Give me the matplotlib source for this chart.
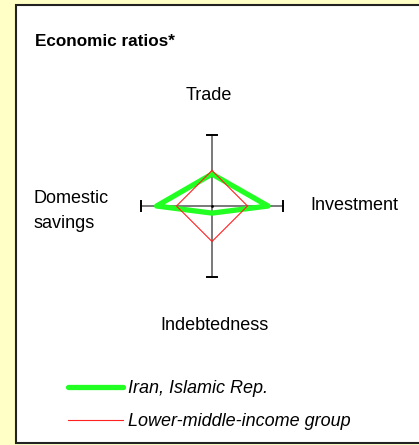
import matplotlib
matplotlib.use('Agg')
import matplotlib.pyplot as plt
import numpy as np
from matplotlib.patches import Rectangle
from matplotlib.lines import Line2D

plt.rcParams['font.family'] = ['Liberation Sans', 'DejaVu Sans']

# Spokes: clockwise from the top
spokes = ['Trade', 'Investment', 'Indebtedness', 'Domestic\nsavings']
country_name = 'Iran, Islamic Rep.'
group_name = 'Lower-middle-income group'
country_vals = [0.45, 0.79, 0.10, 0.78]
group_vals = [0.50, 0.50, 0.50, 0.50]

W, H = 419, 445
cx, cy, r = 212, 206, 71  # centre and spoke length in pixels

fig = plt.figure(figsize=(W / 100, H / 100), dpi=100, facecolor='#ffffc6')

# white panel with dark frame (right edge runs off the image)
fig.patches.append(Rectangle((16 / W, 2 / H), 1.0, 438 / H, transform=fig.transFigure,
                             facecolor='white', edgecolor='#222222', linewidth=1.5, zorder=0))

ax = fig.add_axes([0, 0, 1, 1])
ax.set_zorder(2)
ax.set_xlim(-cx / r, (W - cx) / r)
ax.set_ylim(-(H - cy) / r, cy / r)
ax.axis('off')
ax.patch.set_alpha(0)

angles = np.pi / 2 - np.arange(len(spokes)) * np.pi / 2
ux, uy = np.cos(angles), np.sin(angles)

# spokes with end caps
cap = 0.075
for x, y in zip(ux, uy):
    ax.plot([0, x], [0, y], color='#555555', lw=1.1, zorder=1)
    ax.plot([x - cap * abs(y), x + cap * abs(y)], [y - cap * abs(x), y + cap * abs(x)],
            color='black', lw=1.4, zorder=1)
ax.plot([0], [0], 'k.', ms=2)


def closed(vals):
    v = np.array(vals + vals[:1])
    a = np.append(angles, angles[0])
    return v * np.cos(a), v * np.sin(a)


gx, gy = closed(country_vals)
ax.plot(gx, gy, color='#22ff22', lw=3.8, solid_joinstyle='round', zorder=2)
rx, ry = closed(group_vals)
ax.plot(rx, ry, color='#ff2020', lw=0.8, zorder=3)

fs = 13
ax.text(-0.04, 1.56, spokes[0], ha='center', va='center', fontsize=fs)
ax.text(1.38, 0.0, spokes[1], ha='left', va='center', fontsize=fs)
ax.text(0.03, -1.68, spokes[2], ha='center', va='center', fontsize=fs)
ax.text(-2.52, -0.07, spokes[3], ha='left', va='center', fontsize=fs, linespacing=1.55)

fig.text(35 / W, 1 - 42 / H, 'Economic ratios*', fontsize=12.3, fontweight='bold',
         ha='left', va='center')

handles = [Line2D([], [], color='#22ff22', lw=3.8, solid_capstyle='round'),
           Line2D([], [], color='#ff2020', lw=0.8)]
leg = fig.legend(handles, [country_name, group_name], loc='upper left',
                 bbox_to_anchor=(68 / W, 1 - 380 / H), frameon=False, borderpad=0,
                 borderaxespad=0, handlelength=3.05, handletextpad=0.3, labelspacing=0.88,
                 prop={'size': fs, 'style': 'italic'})
leg.set_zorder(3)

fig.savefig('out.png', dpi=100, facecolor=fig.get_facecolor())
